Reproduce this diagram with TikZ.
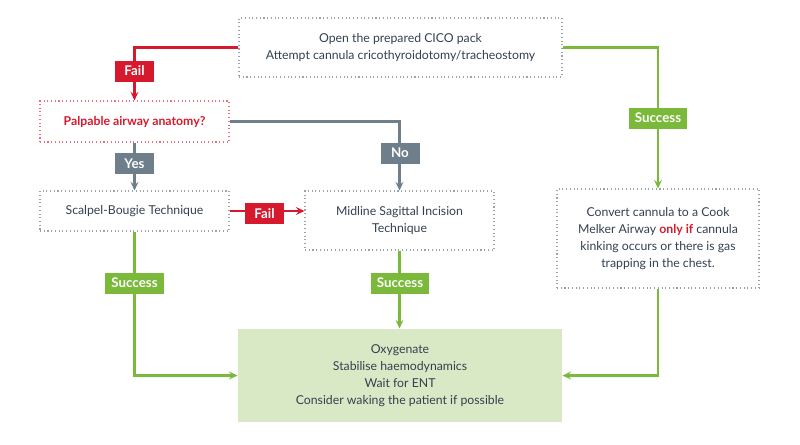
\documentclass[tikz,border=0pt]{standalone}
\usepackage{fontspec}
\setmainfont{Lato}
\usetikzlibrary{arrows.meta}
\definecolor{cred}{HTML}{D7192D}
\definecolor{cgreen}{HTML}{7AB93A}
\definecolor{cgray}{HTML}{6E7F8B}
\definecolor{ctext}{HTML}{334050}
\definecolor{cfill}{HTML}{DAE9C5}
\definecolor{cdot}{HTML}{9AA3AD}
\definecolor{cpink}{HTML}{E8717F}
\begin{document}
\begin{tikzpicture}[x=0.75pt,y=-0.75pt,
  box/.style={draw=cdot, dotted, line width=0.8pt, text=ctext, align=center, inner sep=2pt,
    font=\fontsize{9.2}{12.8}\selectfont},
  tag/.style={text=white, font=\bfseries\fontsize{10}{11}\selectfont, inner sep=0pt,
    minimum height=15.75pt},
  redtag/.style={tag, fill=cred, minimum width=29.25pt},
  graytag/.style={tag, fill=cgray, minimum width=29.25pt},
  greentag/.style={tag, fill=cgreen, minimum width=44pt},
  conn/.style={line width=1.6pt, -{Stealth[length=6.5pt,width=6pt,inset=2.5pt]}},
  redline/.style={conn, draw=cred},
  greenline/.style={conn, draw=cgreen},
  grayline/.style={conn, draw=cgray}]
\useasboundingbox (0,0) rectangle (800,444);

\node[box, minimum width=242.25pt, minimum height=44.25pt] (top) at (400.5,47.5)
  {Open the prepared CICO pack\\Attempt cannula cricothyroidotomy/tracheostomy};
\node[box, draw=cpink, minimum width=141.75pt, minimum height=30.75pt, text=cred,
  font=\bfseries\fontsize{9.2}{12.8}\selectfont] (pal) at (134.5,121.5) {Palpable airway anatomy?};
\node[box, minimum width=141.75pt, minimum height=30pt] (scal) at (134.5,211) {Scalpel-Bougie Technique};
\node[box, minimum width=141.75pt, minimum height=44.25pt] (mid) at (399.5,220.5)
  {Midline Sagittal Incision\\Technique};
\node[box, minimum width=151.5pt, minimum height=74.25pt] (conv) at (658,238.5)
  {Convert cannula to a Cook\\Melker Airway \textcolor{cred}{\bfseries only if} cannula\\kinking occurs or there is gas\\trapping in the chest.};
\node[box, draw=none, solid, fill=cfill, minimum width=243pt, minimum height=69.75pt] (oxy) at (400,375.5)
  {Oxygenate\\Stabilise haemodynamics\\Wait for ENT\\Consider waking the patient if possible};

\draw[redline] (top.west) -| (pal.north);
\draw[greenline] (top.east) -| (conv.north);
\draw[grayline] (pal.east) -| (mid.north);
\draw[grayline] (pal.south) -- (scal.north);
\draw[redline] (scal.east) -- (scal.east -| mid.west);
\draw[greenline] (scal.south) |- (oxy.west);
\draw[greenline] (mid.south) -- (mid.south |- oxy.north);
\draw[greenline] (conv.south) |- (oxy.east);

\node[redtag] (f1) at (134.5,71) {Fail};
\node[greentag] (s1) at (658,118) {Success};
\node[graytag] (no) at (400,153) {No};
\node[graytag] (yes) at (134.5,163.5) {Yes};
\node[redtag] (f2) at (264.5,213.5) {Fail};
\node[greentag] (s2) at (134.5,283) {Success};
\node[greentag] (s3) at (400,283) {Success};
\end{tikzpicture}
\end{document}
